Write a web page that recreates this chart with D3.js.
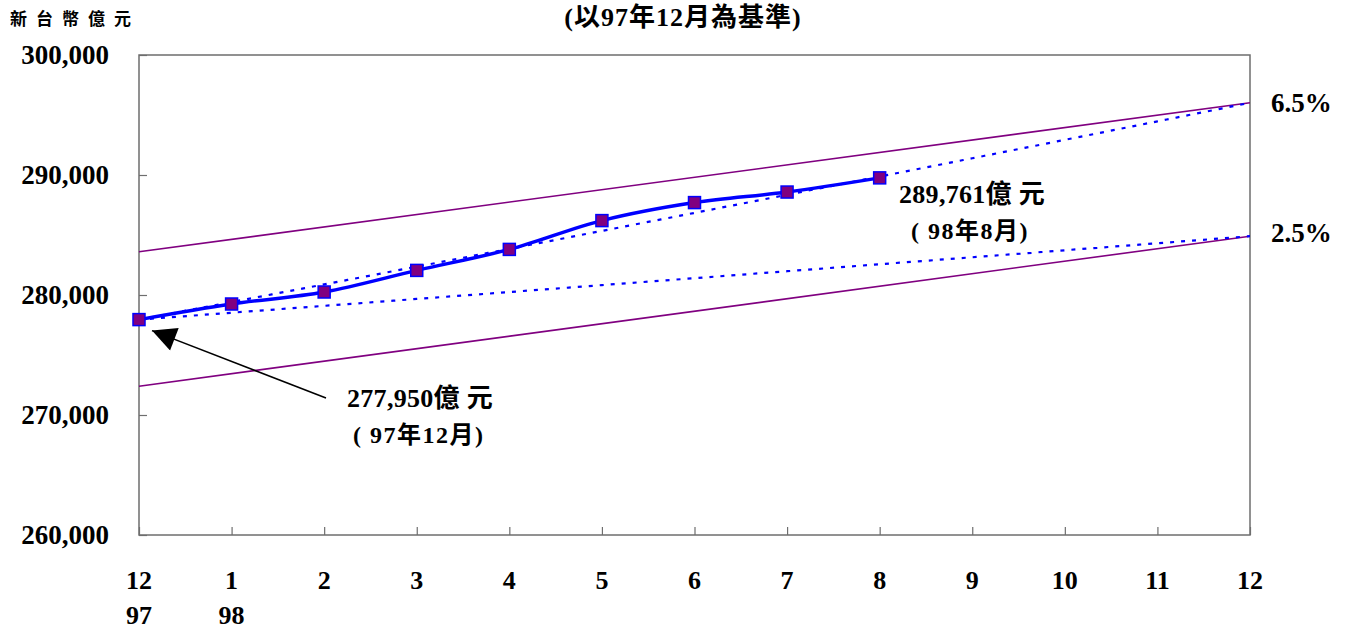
<!DOCTYPE html>
<html>
<head>
<meta charset="utf-8">
<script src="https://cdn.jsdelivr.net/npm/d3@7"></script>
<style>
  body { margin: 0; background: #fff; }
  text { font-family: "Liberation Serif", "Times New Roman", "Noto Sans CJK TC", serif; font-weight: bold; fill: #000; }
</style>
</head>
<body>
<div id="chart"></div>
<script>
// ---- datos ----
const months = [0, 1, 2, 3, 4, 5, 6, 7, 8, 9, 10, 11, 12];
const monthLabels = ["12", "1", "2", "3", "4", "5", "6", "7", "8", "9", "10", "11", "12"];
const yearLabels = ["97", "98"];
const yTicks = [260000, 270000, 280000, 290000, 300000];

// M2 actual (97年12月 - 98年8月)
const actual = [277950, 279250, 280250, 282050, 283800, 286200, 287700, 288580, 289761];

// sendas de crecimiento 6.5% y 2.5% (punteadas)
const path65 = [277950, 279413, 280883, 282361, 283847, 285341, 286843, 288352, 289870, 291395, 292929, 294470, 296017];
const path25 = [277950, 278523, 279096, 279671, 280247, 280824, 281402, 281982, 282563, 283145, 283728, 284312, 284899];

// bandas (líneas moradas)
const upperBand = [283600, 296017];
const lowerBand = [272400, 284899];

const width = 1353, height = 631;
const plotLeft = 139, plotRight = 1250, plotTop = 55, plotBottom = 535;

const svg = d3.select("#chart").append("svg")
    .attr("width", width)
    .attr("height", height);

const x = d3.scaleLinear().domain([0, 12]).range([plotLeft, plotRight]);
const y = d3.scaleLinear().domain([260000, 300000]).range([plotBottom, plotTop]);

// marco del área de trazado
svg.append("rect")
    .attr("x", plotLeft).attr("y", plotTop)
    .attr("width", plotRight - plotLeft).attr("height", plotBottom - plotTop)
    .attr("fill", "none").attr("stroke", "#6e6e6e").attr("stroke-width", 1.5);

// eje Y
const yAxis = svg.append("g")
    .attr("transform", "translate(" + plotLeft + ",0)")
    .call(d3.axisRight(y).tickValues(yTicks).tickSize(8).tickFormat(""));
yAxis.select(".domain").remove();
yAxis.selectAll("line").attr("stroke", "#6e6e6e").attr("stroke-width", 1.2);

svg.selectAll(".ylab")
    .data(yTicks)
    .enter().append("text")
    .attr("class", "ylab")
    .attr("x", 109)
    .attr("y", d => y(d) + 9)
    .attr("text-anchor", "end")
    .style("font-size", "27px")
    .text(d => d3.format(",")(d));

// eje X
const xAxis = svg.append("g")
    .attr("transform", "translate(0," + plotBottom + ")")
    .call(d3.axisTop(x).tickValues(months).tickSize(8).tickFormat(""));
xAxis.select(".domain").remove();
xAxis.selectAll("line").attr("stroke", "#6e6e6e").attr("stroke-width", 1.2);

svg.selectAll(".xlab")
    .data(monthLabels)
    .enter().append("text")
    .attr("class", "xlab")
    .attr("x", (d, i) => x(months[i]))
    .attr("y", 589)
    .attr("text-anchor", "middle")
    .style("font-size", "26px")
    .text(d => d);

svg.selectAll(".yearlab")
    .data(yearLabels)
    .enter().append("text")
    .attr("class", "yearlab")
    .attr("x", (d, i) => x(months[i]))
    .attr("y", 624)
    .attr("text-anchor", "middle")
    .style("font-size", "26px")
    .text(d => d);

// bandas moradas
[upperBand, lowerBand].forEach(band => {
    svg.append("line")
        .attr("x1", x(0)).attr("y1", y(band[0]))
        .attr("x2", x(12)).attr("y2", y(band[1]))
        .attr("stroke", "#800080").attr("stroke-width", 1.6);
});

// sendas punteadas
const dotted = d3.line()
    .x((d, i) => x(months[i]))
    .y(d => y(d))
    .curve(d3.curveMonotoneX);

[path65, path25].forEach(p => {
    svg.append("path")
        .attr("d", dotted(p))
        .attr("fill", "none")
        .attr("stroke", "#0000ff")
        .attr("stroke-width", 2.2)
        .attr("stroke-dasharray", "4,7");
});

// línea de datos
const line = d3.line()
    .x((d, i) => x(months[i]))
    .y(d => y(d))
    .curve(d3.curveCatmullRom);

svg.append("path")
    .attr("d", line(actual))
    .attr("fill", "none")
    .attr("stroke", "#0000ff")
    .attr("stroke-width", 3.5);

svg.selectAll(".pt")
    .data(actual)
    .enter().append("rect")
    .attr("class", "pt")
    .attr("x", (d, i) => x(months[i]) - 6)
    .attr("y", d => y(d) - 6)
    .attr("width", 12)
    .attr("height", 12)
    .attr("fill", "#800080")
    .attr("stroke", "#0000ff")
    .attr("stroke-width", 1.5);

// flecha
svg.append("defs").append("marker")
    .attr("id", "arrow")
    .attr("viewBox", "0 0 10 10")
    .attr("refX", 10).attr("refY", 5)
    .attr("markerWidth", 26).attr("markerHeight", 24)
    .attr("markerUnits", "userSpaceOnUse")
    .attr("orient", "auto")
    .append("path")
    .attr("d", "M0,0 L10,5 L0,10 Z")
    .attr("fill", "#000");

svg.append("line")
    .attr("x1", 326).attr("y1", 398)
    .attr("x2", x(0) + 13).attr("y2", y(actual[0]) + 11)
    .attr("stroke", "#000").attr("stroke-width", 1.5)
    .attr("marker-end", "url(#arrow)");

// anotaciones
function note(xp, yp, l1, l2, dx2) {
    svg.append("text").attr("x", xp).attr("y", yp)
        .style("font-size", "26px").style("letter-spacing", "0.3px").text(l1);
    svg.append("text").attr("x", xp + dx2).attr("y", yp + 36)
        .style("font-size", "24px").style("letter-spacing", "1.5px").text(l2);
}
note(347, 407, "277,950億 元", "( 97年12月)", 6);
note(899, 203, "289,761億 元", "( 98年8月)", 12);

// etiquetas de porcentaje
svg.append("text").attr("x", 1271).attr("y", 112).style("font-size", "27px").text("6.5%");
svg.append("text").attr("x", 1271).attr("y", 242).style("font-size", "27px").text("2.5%");

// título y unidades
svg.append("text").attr("x", 683).attr("y", 26)
    .attr("text-anchor", "middle").style("font-size", "26px").style("letter-spacing", "1px")
    .text("(以97年12月為基準)");
svg.append("text").attr("x", 10).attr("y", 25)
    .style("font-size", "17px").style("letter-spacing", "9px").text("新台幣億元");
</script>
</body>
</html>
